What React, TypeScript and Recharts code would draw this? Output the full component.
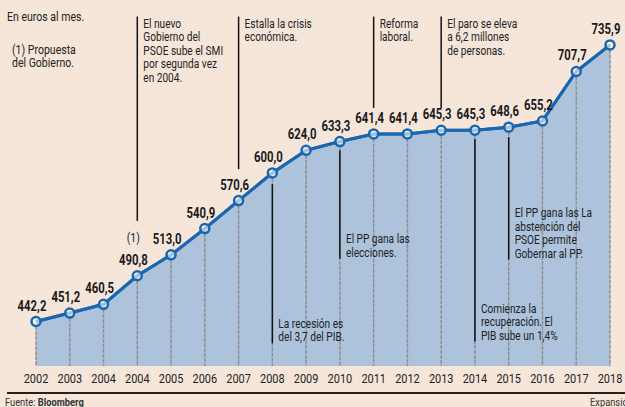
import { ComposedChart, Area, XAxis, YAxis, ReferenceLine, LabelList } from 'recharts'

const years = ['2002', '2003', '2004', '2004', '2005', '2006', '2007', '2008', '2009', '2010', '2011', '2012', '2013', '2014', '2015', '2016', '2017', '2018']
const smi = [442.2, 451.2, 460.5, 490.8, 513.0, 540.9, 570.6, 600.0, 624.0, 633.3, 641.4, 641.4, 645.3, 645.3, 648.6, 655.2, 707.7, 735.9]

// hitos: indice de la categoria, tramo de la linea (en euros) y texto
const hitoIdx = [3, 6, 10, 12, 7, 9, 13, 14]
const hitoDesde = [766, 766, 766, 766, 588, 624, 636, 638]
const hitoHasta = [549, 604, 669, 669, 419, 509, 421, 508]
const hitoArriba = [true, true, true, true, false, false, false, false]
const hitoTexto = [
  ['El nuevo', 'Gobierno del', 'PSOE sube el SMI', 'por segunda vez', 'en 2004.'],
  ['Estalla la crisis', 'económica.'],
  ['Reforma', 'laboral.'],
  ['El paro se eleva', 'a 6,2 millones', 'de personas.'],
  ['La recesión es', 'del 3,7 del PIB.'],
  ['El PP gana las', 'elecciones.'],
  ['Comienza la', 'recuperación. El', 'PIB sube un 1,4%'],
  ['El PP gana las La', 'abstención del', 'PSOE permite', 'Gobernar al PP.'],
]

const Y_MIN = 395
const Y_MAX = 773

const data = years.map((y, i) => ({ i, year: y, v: smi[i] }))

const FONT = 'Roboto, "Liberation Sans", sans-serif'
const NARROW = 0.81 // la fuente original es condensada
const BG = '#f6e6da'
const AZUL = '#1b67ae'
const RELLENO = '#adc3dc'

const fmt = (v: number) => v.toFixed(1).replace('.', ',')

// texto estrechado horizontalmente
function CText({ x, y, anchor = 'start', size = 12.5, weight = 'normal', fill = '#222', children }: any) {
  return (
    <g transform={`translate(${x},${y}) scale(${NARROW},1)`}>
      <text x={0} y={0} textAnchor={anchor} fontFamily={FONT} fontSize={size} fontWeight={weight} fill={fill}>
        {children}
      </text>
    </g>
  )
}

function HitoLabel(props: any) {
  const { viewBox, lines, arriba } = props
  const lh = 13.5
  const x = viewBox.x + 6
  const y0 = arriba ? viewBox.y + 11 : viewBox.y + viewBox.height - (lines.length - 1) * lh - 2
  return (
    <g>
      {lines.map((l: string, k: number) => (
        <CText key={k} x={x} y={y0 + k * lh}>{l}</CText>
      ))}
    </g>
  )
}

function ValorLabel(props: any) {
  const { x, y, value, index } = props
  return (
    <g>
      {index === 3 && <CText x={x - 4} y={y - 34} anchor="middle" size={13}>(1)</CText>}
      <CText x={x - 4} y={y - 11} anchor="middle" size={14} weight="bold" fill="#1a1a1a">{fmt(value)}</CText>
    </g>
  )
}

function YearTick(props: any) {
  const { x, y, payload } = props
  return <CText x={x} y={y + 10} anchor="middle" size={13.5}>{years[payload.value]}</CText>
}

const narrowDiv = { transform: `scaleX(${NARROW})`, transformOrigin: 'left top', whiteSpace: 'nowrap' as const }

export default function App() {
  return (
    <div style={{ position: 'absolute', left: 0, top: 0, width: 625, height: 407, background: BG, overflow: 'hidden', fontFamily: FONT }}>
      <div style={{ position: 'absolute', left: 7, top: 9, fontSize: 13, color: '#222', ...narrowDiv }}>En euros al mes.</div>
      <div style={{ position: 'absolute', left: 12, top: 43, fontSize: 13, color: '#222', lineHeight: '13px', ...narrowDiv }}>
        (1) Propuesta<br />del Gobierno.
      </div>
      <ComposedChart width={625} height={407} data={data} margin={{ top: 10, right: 15, left: 36, bottom: 11 }}>
        <XAxis
          dataKey="i"
          type="category"
          axisLine={false}
          tickLine={false}
          tickSize={0}
          tickMargin={7}
          height={30}
          interval={0}
          tick={<YearTick />}
        />
        <YAxis hide domain={[Y_MIN, Y_MAX]} allowDataOverflow />
        <Area
          type="linear"
          dataKey="v"
          stroke={AZUL}
          strokeWidth={3}
          fill={RELLENO}
          fillOpacity={1}
          isAnimationActive={false}
          dot={false}
          activeDot={false}
        />
        {data.map(d => (
          <ReferenceLine
            key={'g' + d.i}
            segment={[{ x: d.i, y: d.v - 5 }, { x: d.i, y: Y_MIN }]}
            stroke="#8d8d8d"
            strokeWidth={1.4}
            strokeDasharray="4 1"
          />
        ))}
        {hitoIdx.map((idx, k) => (
          <ReferenceLine
            key={'h' + k}
            segment={[{ x: idx, y: hitoDesde[k] }, { x: idx, y: hitoHasta[k] }]}
            stroke="#111"
            strokeWidth={1.5}
            ifOverflow="visible"
            label={(p: any) => <HitoLabel {...p} lines={hitoTexto[k]} arriba={hitoArriba[k]} />}
          />
        ))}
        <Area
          type="linear"
          dataKey="v"
          stroke={AZUL}
          strokeWidth={3}
          fill="none"
          isAnimationActive={false}
          dot={{ r: 4.5, fill: '#fff', stroke: AZUL, strokeWidth: 2.5 }}
          activeDot={false}
        >
          <LabelList dataKey="v" content={(p: any) => <ValorLabel {...p} />} />
        </Area>
      </ComposedChart>
      <div style={{ position: 'absolute', left: 7, right: 0, top: 392, height: 2, background: '#222' }} />
      <div style={{ position: 'absolute', left: 5, top: 395, fontSize: 11.5, color: '#333', ...narrowDiv }}>
        Fuente: <b>Bloomberg</b>
      </div>
      <div style={{ position: 'absolute', left: 590, top: 395, fontSize: 11.5, color: '#333', ...narrowDiv }}>Expansión</div>
    </div>
  )
}
